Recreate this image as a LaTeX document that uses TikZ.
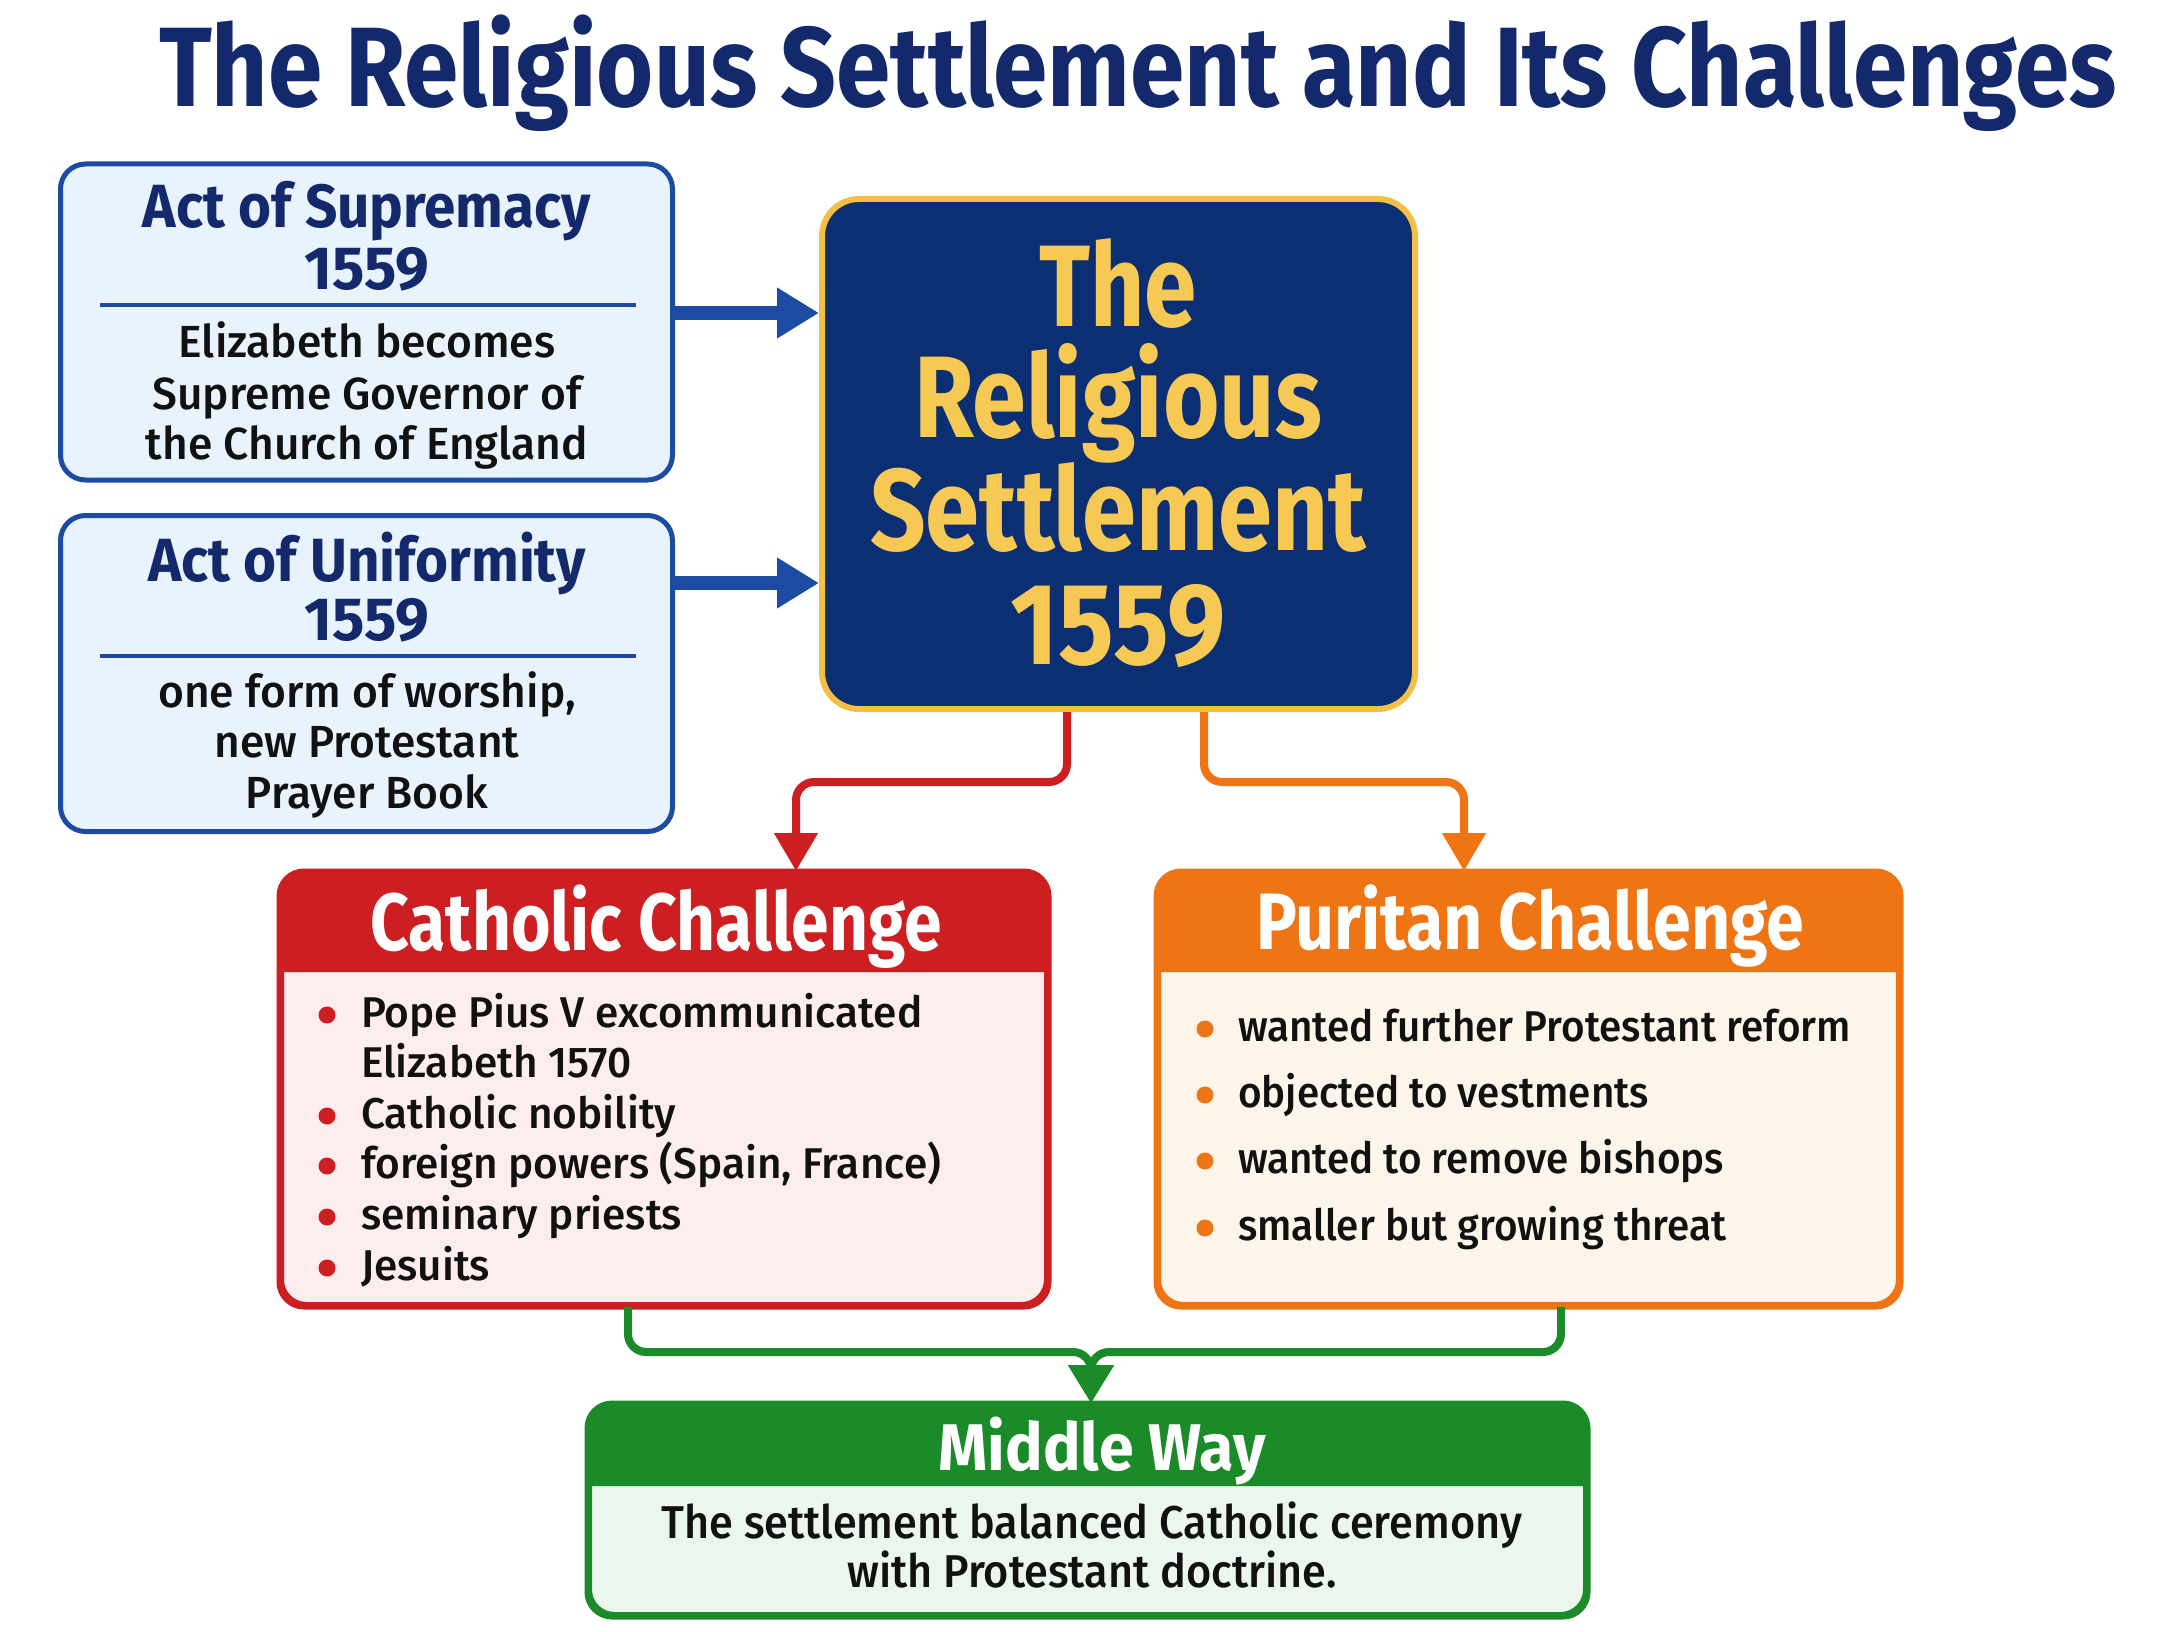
\documentclass[tikz,border=0pt]{standalone}
\usepackage{fontspec}
\usepackage{graphicx}
\usetikzlibrary{arrows.meta}
\setmainfont{Fira Sans}
\newfontfamily\hf{Fira Sans}[FakeStretch=0.76]
\newfontfamily\bodyA{Fira Sans Medium}[FakeStretch=0.985]
\newfontfamily\bodyB{Fira Sans Medium}[FakeStretch=0.94]
\newcommand{\hs}[3]{\scalebox{#2}[1]{\hf\bfseries\fontsize{#1}{#1}\selectfont #3}}
\newcommand{\ba}[1]{\bodyA\fontsize{#1}{#1}\selectfont}
\newcommand{\bb}[1]{\bodyB\fontsize{#1}{#1}\selectfont}
\definecolor{navy}{HTML}{14296B}
\definecolor{blueb}{HTML}{1D4AA3}
\definecolor{lbfill}{HTML}{E8F3FD}
\definecolor{cfill}{HTML}{0C2E72}
\definecolor{gold}{HTML}{F4BF45}
\definecolor{goldt}{HTML}{F6C955}
\definecolor{redc}{HTML}{CD1F22}
\definecolor{redf}{HTML}{FDEDEC}
\definecolor{orc}{HTML}{EE7414}
\definecolor{orf}{HTML}{FEF5EA}
\definecolor{grc}{HTML}{1B8B2A}
\definecolor{grf}{HTML}{EBF7EC}
\definecolor{txt}{HTML}{111111}
\begin{document}
\begin{tikzpicture}[x=1pt,y=-1pt,
  t/.style={anchor=base,inner sep=0pt,outer sep=0pt},
  tl/.style={anchor=base west,inner sep=0pt,outer sep=0pt},
  lbox/.style={draw=blueb,fill=lbfill,line width=5pt,rounded corners=25pt,inner sep=0pt,minimum width=612pt,minimum height=316pt},
  cbox/.style={draw=gold,fill=cfill,line width=6pt,rounded corners=37pt,inner sep=0pt,minimum width=593pt,minimum height=510pt},
  conn/.style={line width=8pt,rounded corners=18pt},
  bul/.style={circle,inner sep=0pt,minimum size=17pt}
]
\useasboundingbox[fill=white] (0,0) rectangle (2176,1632);

% title
\node[t,text=navy] (title) at (1138,107) {\hs{113}{1.14}{The Religious Settlement and Its Challenges}};

% left boxes
\node[lbox] (sup) at (366.5,322) {};
\node[t,text=navy] (sup1) at (367,228) {\hs{61}{1.22}{Act of Supremacy}};
\node[t,text=navy] (sup2) at (367,289) {\hs{61}{1.3}{1559}};
\coordinate (supdl) at (100,305); \coordinate (supdr) at (636,305);
\draw[blueb,line width=3.5pt] (supdl) -- (supdr);
\node[t,text=txt] (sup3) at (367,357) {\ba{45}Elizabeth becomes};
\node[t,text=txt] (sup4) at (367,409) {\ba{45}Supreme Governor of};
\node[t,text=txt] (sup5) at (367,459) {\ba{45}the Church of England};

\node[lbox] (uni) at (366.5,673.5) {};
\node[t,text=navy] (uni1) at (367,581) {\hs{61}{1.22}{Act of Uniformity}};
\node[t,text=navy] (uni2) at (367,640) {\hs{61}{1.3}{1559}};
\coordinate (unidl) at (100,656); \coordinate (unidr) at (636,656);
\draw[blueb,line width=3.5pt] (unidl) -- (unidr);
\node[t,text=txt] (uni3) at (367,707) {\ba{45}one form of worship,};
\node[t,text=txt] (uni4) at (367,757) {\ba{45}new Protestant};
\node[t,text=txt] (uni5) at (367,808) {\ba{45}Prayer Book};

% central box
\node[cbox] (rs) at (1118.5,454) {};
\node[t,text=goldt] (rs1) at (1118,326) {\hs{116}{1.07}{The}};
\node[t,text=goldt] (rs2) at (1118,437) {\hs{116}{1.10}{Religious}};
\node[t,text=goldt] (rs3) at (1118,550) {\hs{116}{1.105}{Settlement}};
\node[t,text=goldt] (rs4) at (1118,664) {\hs{116}{1.18}{1559}};

% blue arrows
\draw[blueb,line width=14pt,-{Triangle[length=42pt,width=48pt]}] (sup.east |- 0,313) -- (rs.west |- 0,313);
\draw[blueb,line width=14pt,-{Triangle[length=42pt,width=48pt]}] (uni.east |- 0,583) -- (rs.west |- 0,583);

% Catholic box
\node[draw=redc,fill=redf,line width=5pt,rounded corners=25pt,inner sep=0pt,minimum width=765pt,minimum height=431pt] (cath) at (664,1089) {};
\fill[redc] (cath.west |- 0,972) {[rounded corners=25pt] -- (cath.north west) -- (cath.north east)} -- (cath.east |- 0,972) -- cycle;
\draw[redc,line width=5pt,rounded corners=25pt] (cath.south west) rectangle (cath.north east);
\node[t,text=white] (cathh) at (656,950) {\hs{81}{1.10}{Catholic Challenge}};
\node[bul,fill=redc] (cb1) at (327,1015) {};
\node[tl,text=txt] (ct1) at (361,1027) {\ba{43}Pope Pius V excommunicated};
\node[tl,text=txt] (ct1b) at (361,1077) {\ba{43}Elizabeth 1570};
\node[bul,fill=redc] (cb2) at (327,1116) {};
\node[tl,text=txt] (ct2) at (361,1128) {\ba{43}Catholic nobility};
\node[bul,fill=redc] (cb3) at (327,1166) {};
\node[tl,text=txt] (ct3) at (361,1178) {\ba{43}foreign powers (Spain, France)};
\node[bul,fill=redc] (cb4) at (327,1217) {};
\node[tl,text=txt] (ct4) at (361,1229) {\ba{43}seminary priests};
\node[bul,fill=redc] (cb5) at (327,1268) {};
\node[tl,text=txt] (ct5) at (361,1280) {\ba{43}Jesuits};

% Puritan box
\node[draw=orc,fill=orf,line width=5pt,rounded corners=25pt,inner sep=0pt,minimum width=740pt,minimum height=431pt] (pur) at (1528.5,1089) {};
\fill[orc] (pur.west |- 0,972) {[rounded corners=25pt] -- (pur.north west) -- (pur.north east)} -- (pur.east |- 0,972) -- cycle;
\draw[orc,line width=5pt,rounded corners=25pt] (pur.south west) rectangle (pur.north east);
\node[t,text=white] (purh) at (1530,949) {\hs{80}{1.12}{Puritan Challenge}};
\node[bul,fill=orc] (pb1) at (1205,1029) {};
\node[tl,text=txt] (pt1) at (1238,1041) {\bb{43}wanted further Protestant reform};
\node[bul,fill=orc] (pb2) at (1205,1095) {};
\node[tl,text=txt] (pt2) at (1238,1107) {\bb{43}objected to vestments};
\node[bul,fill=orc] (pb3) at (1205,1161) {};
\node[tl,text=txt] (pt3) at (1238,1173) {\bb{43}wanted to remove bishops};
\node[bul,fill=orc] (pb4) at (1205,1228) {};
\node[tl,text=txt] (pt4) at (1238,1240) {\bb{43}smaller but growing threat};

% Middle way box
\node[draw=grc,fill=grf,line width=5pt,rounded corners=25pt,inner sep=0pt,minimum width=996pt,minimum height=209pt] (mw) at (1087.5,1510) {};
\fill[grc] (mw.west |- 0,1486) {[rounded corners=25pt] -- (mw.north west) -- (mw.north east)} -- (mw.east |- 0,1486) -- cycle;
\draw[grc,line width=5pt,rounded corners=25pt] (mw.south west) rectangle (mw.north east);
\node[t,text=white] (mwh) at (1102,1470) {\hs{66}{1.25}{Middle Way}};
\node[t,text=txt] (mw1) at (1092,1538) {\bb{46}The settlement balanced Catholic ceremony};
\node[t,text=txt] (mw2) at (1092,1587) {\bb{46}with Protestant doctrine.};

% connectors
\draw[redc,conn,-{Triangle[length=38pt,width=42pt]}] (rs.south -| 1067,0) -- (1067,782) -- (796,782) -- (cath.north -| 796,0);
\draw[orc,conn,-{Triangle[length=38pt,width=42pt]}] (rs.south -| 1204,0) -- (1204,782) -- (1464,782) -- (pur.north -| 1464,0);
\draw[grc,conn,-{Triangle[length=38pt,width=44pt]}] (cath.south -| 628,0) -- (628,1352) -- (1091,1352) -- (mw.north -| 1091,0);
\draw[grc,conn,-{Triangle[length=38pt,width=44pt]}] (pur.south -| 1561,0) -- (1561,1352) -- (1091,1352) -- (mw.north -| 1091,0);
\end{tikzpicture}
\end{document}
